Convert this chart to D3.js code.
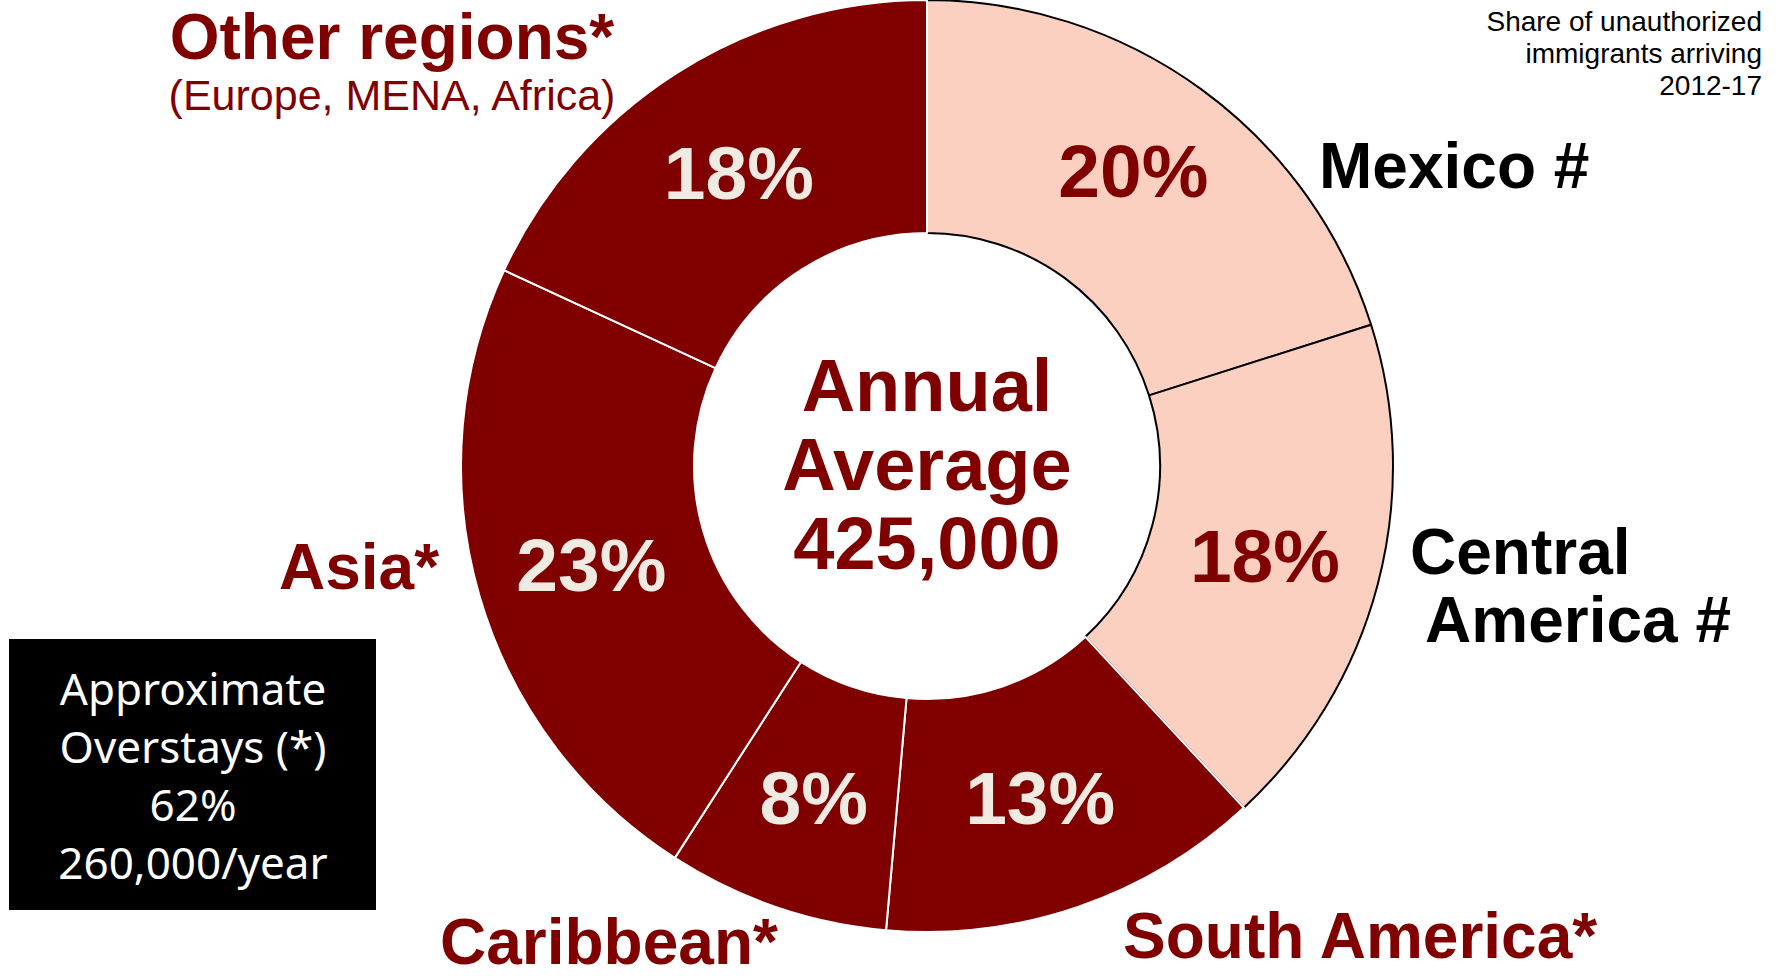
<!DOCTYPE html>
<html>
<head>
<meta charset="utf-8">
<script src="https://cdn.jsdelivr.net/npm/d3@7"></script>
<style>
  html, body { margin: 0; padding: 0; background: #fff; }
  svg { display: block; }
</style>
</head>
<body>
<svg id="chart" width="1783" height="980"></svg>
<script>
// ---- data (shares; labels show rounded values) ----
const categories = ["Mexico #", "Central America #", "South America*", "Caribbean*", "Asia*", "Other regions*"];
const shares = [20.1, 18.0, 13.3, 7.7, 22.8, 18.1];
const isOverstay = [false, false, true, true, true, true];
const annualAverage = 425000;
const overstayPerYear = 260000;
const subtitleOther = "(Europe, MENA, Africa)";
const noteLines = ["Share of unauthorized", "immigrants arriving", "2012-17"];
const centerWords = ["Annual", "Average"];

// ---- layout / style (not data) ----
const W = 1783, H = 980;
const cx = 927, cy = 466, rOuter = 466, rInner = 233;
const DARK = "#800000", LIGHT = "#FBD0C1", CREAM = "#EFEBE2";
const labelLayout = {
  "Mexico #":          {lines: ["Mexico #"], xs: [1319], ys: [188], anchor: "start", color: "#000"},
  "Central America #": {lines: ["Central", "America #"], xs: [1410, 1425], ys: [574, 642], anchor: "start", color: "#000"},
  "South America*":    {lines: ["South America*"], xs: [1123], ys: [958], anchor: "start", color: DARK},
  "Caribbean*":        {lines: ["Caribbean*"], xs: [440], ys: [964], anchor: "start", color: DARK},
  "Asia*":             {lines: ["Asia*"], xs: [279], ys: [589], anchor: "start", color: DARK},
  "Other regions*":    {lines: ["Other regions*"], xs: [392], ys: [59], anchor: "middle", color: DARK}
};
const pctNudge = {"Mexico #": -14};

const svg = d3.select("#chart");
const g = svg.append("g").attr("transform", `translate(${cx},${cy})`);

const rows = categories.map((c, i) => ({cat: c, value: shares[i], over: isOverstay[i]}));
const pie = d3.pie().sort(null).value(d => d.value).startAngle(0).endAngle(2 * Math.PI);
const arcs = pie(rows);
const arc = d3.arc().innerRadius(rInner).outerRadius(rOuter);

// light (non-overstay) slices first with black outline, then dark slices with white dividers on top
const ordered = arcs.filter(a => !a.data.over).concat(arcs.filter(a => a.data.over));
g.selectAll("path.slice").data(ordered).join("path")
  .attr("class", "slice")
  .attr("d", arc)
  .attr("fill", d => d.data.over ? DARK : LIGHT)
  .attr("stroke", d => d.data.over ? "#fff" : "#000")
  .attr("stroke-width", 2)
  .attr("stroke-linejoin", "round");

// percentage labels
const font = "'Liberation Sans', Arial, sans-serif";
g.selectAll("text.pct").data(arcs).join("text")
  .attr("class", "pct")
  .attr("x", d => arc.centroid(d)[0])
  .attr("y", d => arc.centroid(d)[1] + 27 + (pctNudge[d.data.cat] || 0))
  .attr("text-anchor", "middle")
  .attr("font-family", font)
  .attr("font-weight", "bold")
  .attr("font-size", 75)
  .attr("fill", d => d.data.over ? CREAM : DARK)
  .text(d => Math.round(d.data.value) + "%");

// centre text
const centerLines = centerWords.concat([d3.format(",")(annualAverage)]);
g.selectAll("text.center").data(centerLines).join("text")
  .attr("class", "center")
  .attr("x", 0)
  .attr("y", (d, i) => -55 + i * 79)
  .attr("text-anchor", "middle")
  .attr("font-family", font)
  .attr("font-weight", "bold")
  .attr("font-size", 74)
  .attr("fill", DARK)
  .text(d => d);

// category labels
categories.forEach(c => {
  const L = labelLayout[c];
  L.lines.forEach((line, j) => {
    svg.append("text")
      .attr("x", L.xs[j]).attr("y", L.ys[j])
      .attr("text-anchor", L.anchor)
      .attr("font-family", font)
      .attr("font-weight", "bold")
      .attr("font-size", 64)
      .attr("fill", L.color)
      .text(line);
  });
});
svg.append("text")
  .attr("x", 392).attr("y", 110)
  .attr("text-anchor", "middle")
  .attr("font-family", font)
  .attr("font-size", 43)
  .attr("fill", DARK)
  .text(subtitleOther);

// top-right note
svg.selectAll("text.note").data(noteLines).join("text")
  .attr("class", "note")
  .attr("x", 1762)
  .attr("y", (d, i) => 31 + i * 32)
  .attr("text-anchor", "end")
  .attr("font-family", font)
  .attr("font-size", 28)
  .attr("fill", "#000")
  .text(d => d);

// overstay box
const overstayPct = Math.round(d3.sum(rows.filter(r => r.over), r => r.value));
const boxLines = ["Approximate", "Overstays (*)", overstayPct + "%", d3.format(",")(overstayPerYear) + "/year"];
svg.append("rect").attr("x", 9).attr("y", 639).attr("width", 367).attr("height", 271).attr("fill", "#000");
svg.selectAll("text.box").data(boxLines).join("text")
  .attr("class", "box")
  .attr("x", 193)
  .attr("y", (d, i) => 705 + i * 58)
  .attr("text-anchor", "middle")
  .attr("font-family", "'Noto Sans', sans-serif")
  .attr("font-size", 44)
  .attr("fill", "#fff")
  .text(d => d);
</script>
</body>
</html>
